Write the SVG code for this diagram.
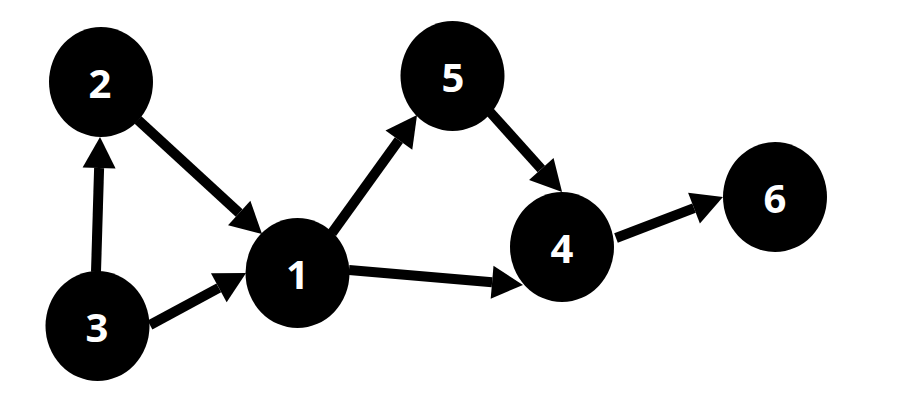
<svg xmlns="http://www.w3.org/2000/svg" width="913" height="400" viewBox="0 0 913 400">
<style>
.node ellipse{fill:#000}
.node text{fill:#fff;font-family:"Open Sans","Liberation Sans",sans-serif;font-weight:bold;font-size:40px;text-anchor:middle}
.edge{stroke:#000;stroke-width:10;fill:none;marker-end:url(#arr)}
</style>
<defs>
<marker id="arr" markerUnits="userSpaceOnUse" markerWidth="32" markerHeight="34" refX="0" refY="16.5" orient="auto" overflow="visible">
<path d="M0,0 L31,16.5 L0,33 Z" fill="#000"/>
</marker>
</defs>
<rect width="913" height="400" fill="#fff"/>
<g id="connectors">
<line class="edge" x1="96" y1="272" x2="99.1" y2="168"/>
<line class="edge" x1="138" y1="120" x2="239.2" y2="213"/>
<line class="edge" x1="150" y1="325" x2="218.8" y2="287.8"/>
<line class="edge" x1="332" y1="233" x2="398.9" y2="140.2"/>
<line class="edge" x1="349" y1="270" x2="492.1" y2="282.3"/>
<line class="edge" x1="490" y1="112" x2="541.3" y2="169"/>
<line class="edge" x1="616" y1="238" x2="694" y2="208.1"/>
</g>
<g id="node1" class="node"><ellipse cx="297.5" cy="273" rx="52" ry="55"/><text x="297.5" y="289">1</text></g>
<g id="node2" class="node"><ellipse cx="101" cy="82" rx="52" ry="55"/><text x="100" y="98">2</text></g>
<g id="node3" class="node"><ellipse cx="97.5" cy="326" rx="52" ry="55"/><text x="97" y="342">3</text></g>
<g id="node4" class="node"><ellipse cx="562" cy="247" rx="52" ry="55"/><text x="562" y="263">4</text></g>
<g id="node5" class="node"><ellipse cx="452.5" cy="76" rx="52" ry="55"/><text x="453" y="92">5</text></g>
<g id="node6" class="node"><ellipse cx="775" cy="197" rx="52" ry="55"/><text x="775" y="213">6</text></g>
</svg>
